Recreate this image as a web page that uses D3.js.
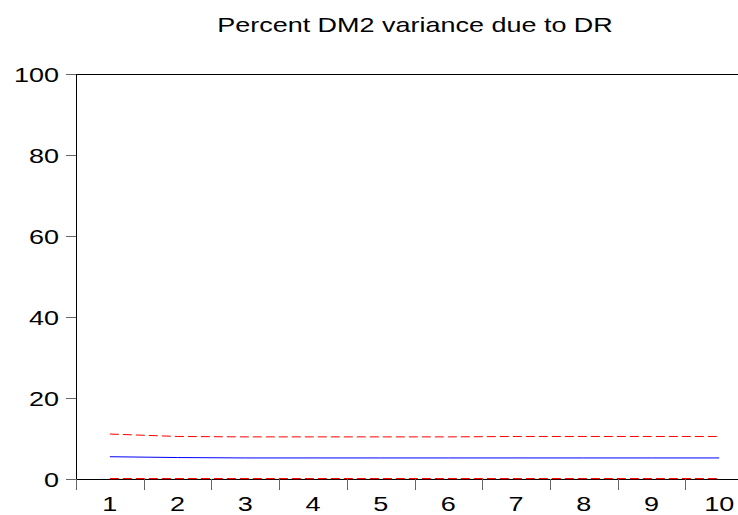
<!DOCTYPE html>
<html>
<head>
<meta charset="utf-8">
<script src="https://cdn.jsdelivr.net/npm/d3@7"></script>
<style>
  html, body { margin: 0; padding: 0; background: #fff; }
  svg { display: block; }
  text { font-family: "Liberation Sans", Arial, sans-serif; fill: #000; }
</style>
</head>
<body>
<svg id="chart" width="738" height="515"></svg>
<script>
// Forecast horizons (periods)
const periods = [1, 2, 3, 4, 5, 6, 7, 8, 9, 10];
// Variance share of DM2 explained by DR, percent
const share = [5.5, 5.3, 5.2, 5.2, 5.2, 5.2, 5.2, 5.2, 5.2, 5.2];
// Upper and lower +/- 2 S.E. bands
const upperBand = [11.1, 10.5, 10.4, 10.4, 10.4, 10.4, 10.5, 10.5, 10.5, 10.5];
const lowerBand = [0.1, 0.1, 0.1, 0.1, 0.1, 0.1, 0.1, 0.1, 0.1, 0.1];
// Value axis ticks
const yTicks = [0, 20, 40, 60, 80, 100];
const titleText = "Percent DM2 variance due to DR";

const svg = d3.select("#chart");
const W = 738;
const m = { left: 76, top: 74, bottom: 479, right: 753 };

const x = d3.scaleBand().domain(periods).range([m.left, m.right]).padding(0);
const y = d3.scaleLinear().domain([0, 100]).range([m.bottom, m.top]);
const cx = d => x(d) + x.bandwidth() / 2;

// Text drawn with a horizontal stretch
function stretchedText(g, tx, ty, str, anchor, size, sx) {
  return g.append("text")
    .attr("transform", `translate(${tx},${ty}) scale(${sx},1)`)
    .attr("text-anchor", anchor)
    .attr("font-size", size)
    .text(str);
}

// Title
stretchedText(svg, 415, 32, titleText, "middle", 21, 1.285);

// Frame: left axis, top border, bottom axis
svg.append("line").attr("x1", m.left + 0.5).attr("x2", m.left + 0.5)
  .attr("y1", m.top).attr("y2", m.bottom).attr("stroke", "#000");
svg.append("line").attr("x1", m.left).attr("x2", W)
  .attr("y1", m.top + 0.5).attr("y2", m.top + 0.5).attr("stroke", "#000");
svg.append("line").attr("x1", m.left).attr("x2", W)
  .attr("y1", m.bottom + 0.5).attr("y2", m.bottom + 0.5).attr("stroke", "#000");

// Y ticks and labels
const yg = svg.append("g");
yTicks.forEach(t => {
  const yy = Math.round(y(t)) + 0.5;
  yg.append("line").attr("x1", m.left - 10).attr("x2", m.left)
    .attr("y1", yy).attr("y2", yy).attr("stroke", "#666");
  stretchedText(yg, 59, yy + 7, String(t), "end", 20, 1.35);
});

// X ticks at band boundaries and labels at centers
const xg = svg.append("g");
periods.forEach(p => {
  const xx = Math.round(x(p)) + 0.5;
  xg.append("line").attr("x1", xx).attr("x2", xx)
    .attr("y1", m.bottom).attr("y2", m.bottom + 11).attr("stroke", "#666");
  stretchedText(xg, cx(p), 511, String(p), "middle", 20, 1.35);
});

// Series lines
const line = d3.line().x((d, i) => cx(periods[i])).y(d => y(d));

svg.append("path").datum(upperBand).attr("d", line)
  .attr("fill", "none").attr("stroke", "#ff0000").attr("stroke-width", 1)
  .attr("stroke-dasharray", "9,4");
svg.append("path").datum(lowerBand).attr("d", line)
  .attr("fill", "none").attr("stroke", "#ff0000").attr("stroke-width", 1.2)
  .attr("stroke-dasharray", "9,4");
svg.append("path").datum(share).attr("d", line)
  .attr("fill", "none").attr("stroke", "#0000ff").attr("stroke-width", 1);
</script>
</body>
</html>
